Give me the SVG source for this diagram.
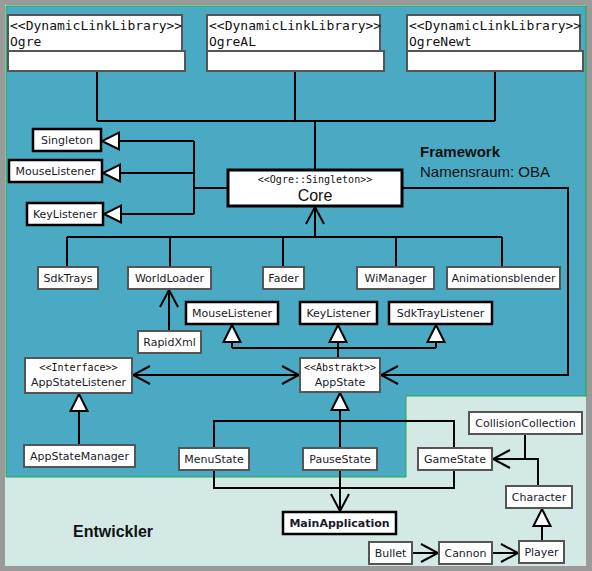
<svg xmlns="http://www.w3.org/2000/svg" width="592" height="571" viewBox="0 0 592 571">
<style>
.lbl{font-family:"DejaVu Sans",Verdana,sans-serif;font-size:11px;fill:#1a1a2a;text-anchor:middle}
.mono{font-family:"DejaVu Sans Mono","Liberation Mono",monospace;fill:#111}
.st{font-size:10px;text-anchor:middle}
.thin{fill:#fff;stroke:#555;stroke-width:2}
.thick{fill:#fff;stroke:#000;stroke-width:2.5}
.con{fill:none;stroke:#000;stroke-width:2}
.title{font-family:"Liberation Sans",Arial,sans-serif;fill:#111}
</style>
<defs>
<marker id="open" viewBox="-20 -12 22 24" refX="0" refY="0" markerWidth="22" markerHeight="24" markerUnits="userSpaceOnUse" orient="auto-start-reverse">
<path d="M-17,-9 L0,0 L-17,9" fill="none" stroke="#000" stroke-width="2"/>
</marker>
<marker id="tri" viewBox="-20 -12 22 24" refX="0" refY="0" markerWidth="22" markerHeight="24" markerUnits="userSpaceOnUse" orient="auto">
<path d="M0,0 L-17,-8.5 L-17,8.5 Z" fill="#fff" stroke="#000" stroke-width="2"/>
</marker>
</defs>
<rect x="0" y="0" width="592" height="571" fill="#9a9a9a"/>
<rect x="5" y="5" width="581" height="561" fill="#d3e9e6"/>
<path d="M6,6 H586 V396 H406 V477 H6 Z" fill="#4aaac4" stroke="#22aa44" stroke-width="1"/>
<text class="title" x="420" y="157" font-size="15" font-weight="bold">Framework</text>
<text class="title" x="420" y="177" font-size="15" fill="#10202e">Namensraum: OBA</text>
<text class="title" x="73" y="537" font-size="16" font-weight="bold">Entwickler</text>
<g id="connectors">
<path class="con" d="M97,71 V121 M295,71 V121 M495,71 V121 M97,121 H495 M315,121 V170"/>
<path class="con" d="M228,188 H194 M194,141 V214"/>
<path class="con" d="M194,141 H102" marker-end="url(#tri)"/>
<path class="con" d="M194,173 H103" marker-end="url(#tri)"/>
<path class="con" d="M194,214 H104" marker-end="url(#tri)"/>
<path class="con" d="M67,237 H502 M67,237 V267 M170,237 V267 M283,237 V267 M396,237 V267 M502,237 V267"/>
<path class="con" d="M315,237 V207" marker-end="url(#open)"/>
<path class="con" d="M169,331 V290" marker-end="url(#open)"/>
<path class="con" d="M338,358 V348 M232,348 H436"/>
<path class="con" d="M232,348 V325" marker-end="url(#tri)"/>
<path class="con" d="M338,348 V325" marker-end="url(#tri)"/>
<path class="con" d="M436,348 V325" marker-end="url(#tri)"/>
<path class="con" d="M133,375 H299" marker-start="url(#open)" marker-end="url(#open)"/>
<path class="con" d="M402,188 H568 V375 H381" marker-end="url(#open)"/>
<path class="con" d="M79,445 V394" marker-end="url(#tri)"/>
<path class="con" d="M214,421 H454 V488 H214 Z"/>
<path class="con" d="M340,448 V393" marker-end="url(#tri)"/>
<path class="con" d="M340,470 V511" marker-end="url(#open)"/>
<path class="con" d="M525,434 V459 M538,486 V459 H493" marker-end="url(#open)"/>
<path class="con" d="M542,541 V509" marker-end="url(#tri)"/>
<path class="con" d="M412,553 H438" marker-end="url(#open)"/>
<path class="con" d="M492,553 H518" marker-end="url(#open)"/>
</g>
<g id="ogre">
<rect class="thin" x="8" y="15" width="174" height="36"/>
<rect class="thin" x="8" y="51" width="177" height="20"/>
<text class="mono" x="10" y="30" font-size="13">&lt;&lt;DynamicLinkLibrary&gt;&gt;</text>
<text class="mono" x="10" y="46" font-size="13">Ogre</text>
</g>
<g id="ogreal">
<rect class="thin" x="207" y="15" width="173" height="36"/>
<rect class="thin" x="207" y="51" width="177" height="20"/>
<text class="mono" x="209" y="30" font-size="13">&lt;&lt;DynamicLinkLibrary&gt;&gt;</text>
<text class="mono" x="209" y="46" font-size="13">OgreAL</text>
</g>
<g id="ogrenewt">
<rect class="thin" x="407" y="15" width="173" height="36"/>
<rect class="thin" x="407" y="51" width="176" height="20"/>
<text class="mono" x="409" y="30" font-size="13">&lt;&lt;DynamicLinkLibrary&gt;&gt;</text>
<text class="mono" x="409" y="46" font-size="13">OgreNewt</text>
</g>
<g id="singleton">
<rect class="thick" x="33" y="129" width="68" height="22"/>
<text class="lbl" x="67" y="144">Singleton</text>
</g>
<g id="mouselistener1">
<rect class="thick" x="9" y="160" width="93" height="22"/>
<text class="lbl" x="55.5" y="175">MouseListener</text>
</g>
<g id="keylistener1">
<rect class="thick" x="27" y="203" width="76" height="22"/>
<text class="lbl" x="65" y="218">KeyListener</text>
</g>
<g id="core">
<rect x="228" y="170" width="174" height="36" fill="#fff" stroke="#000" stroke-width="3"/>
<text class="mono st" x="315" y="183">&lt;&lt;Ogre::Singleton&gt;&gt;</text>
<text class="title" x="315" y="201" font-size="16" text-anchor="middle">Core</text>
</g>
<g id="sdktrays">
<rect class="thin" x="38" y="267" width="60" height="22"/>
<text class="lbl" x="68" y="282">SdkTrays</text>
</g>
<g id="worldloader">
<rect class="thin" x="128" y="267" width="83" height="22"/>
<text class="lbl" x="169.5" y="282">WorldLoader</text>
</g>
<g id="fader">
<rect class="thin" x="263" y="267" width="41" height="22"/>
<text class="lbl" x="283.5" y="282">Fader</text>
</g>
<g id="wimanager">
<rect class="thin" x="357" y="267" width="77" height="22"/>
<text class="lbl" x="395.5" y="282">WiManager</text>
</g>
<g id="animationsblender">
<rect class="thin" x="447" y="267" width="113" height="22"/>
<text class="lbl" x="503.5" y="282">Animationsblender</text>
</g>
<g id="rapidxml">
<rect class="thin" x="138" y="331" width="63" height="22"/>
<text class="lbl" x="169.5" y="346">RapidXml</text>
</g>
<g id="mouselistener2">
<rect class="thick" x="186" y="302" width="92" height="22"/>
<text class="lbl" x="232" y="317">MouseListener</text>
</g>
<g id="keylistener2">
<rect class="thick" x="300" y="302" width="77" height="22"/>
<text class="lbl" x="338.5" y="317">KeyListener</text>
</g>
<g id="sdktraylistener">
<rect class="thick" x="389" y="302" width="103" height="22"/>
<text class="lbl" x="440.5" y="317">SdkTrayListener</text>
</g>
<g id="appstatelistener">
<rect class="thin" x="25" y="358" width="107" height="35"/>
<text class="mono st" x="78.5" y="371">&lt;&lt;Interface&gt;&gt;</text>
<text class="lbl" x="78.5" y="386">AppStateListener</text>
</g>
<g id="appstate">
<rect class="thin" x="300" y="358" width="80" height="34"/>
<text class="mono st" x="340" y="371">&lt;&lt;Abstrakt&gt;&gt;</text>
<text class="lbl" x="340" y="386">AppState</text>
</g>
<g id="appstatemanager">
<rect class="thin" x="24" y="445" width="111" height="22"/>
<text class="lbl" x="79.5" y="460">AppStateManager</text>
</g>
<g id="menustate">
<rect class="thin" x="179" y="448" width="70" height="22"/>
<text class="lbl" x="214" y="463">MenuState</text>
</g>
<g id="pausestate">
<rect class="thin" x="303" y="448" width="74" height="22"/>
<text class="lbl" x="340" y="463">PauseState</text>
</g>
<g id="gamestate">
<rect class="thin" x="418" y="448" width="74" height="22"/>
<text class="lbl" x="455" y="463">GameState</text>
</g>
<g id="mainapplication">
<rect class="thick" x="283" y="512" width="113" height="22"/>
<text class="lbl" x="339.5" y="527" font-weight="bold">MainApplication</text>
</g>
<g id="collisioncollection">
<rect class="thin" x="469" y="412" width="113" height="22"/>
<text class="lbl" x="525.5" y="427">CollisionCollection</text>
</g>
<g id="character">
<rect class="thin" x="506" y="486" width="66" height="22"/>
<text class="lbl" x="539" y="501">Character</text>
</g>
<g id="player">
<rect class="thin" x="519" y="541" width="45" height="22"/>
<text class="lbl" x="541.5" y="556">Player</text>
</g>
<g id="cannon">
<rect class="thin" x="439" y="542" width="53" height="22"/>
<text class="lbl" x="465.5" y="557">Cannon</text>
</g>
<g id="bullet">
<rect class="thin" x="369" y="542" width="43" height="22"/>
<text class="lbl" x="390.5" y="557">Bullet</text>
</g>
</svg>
